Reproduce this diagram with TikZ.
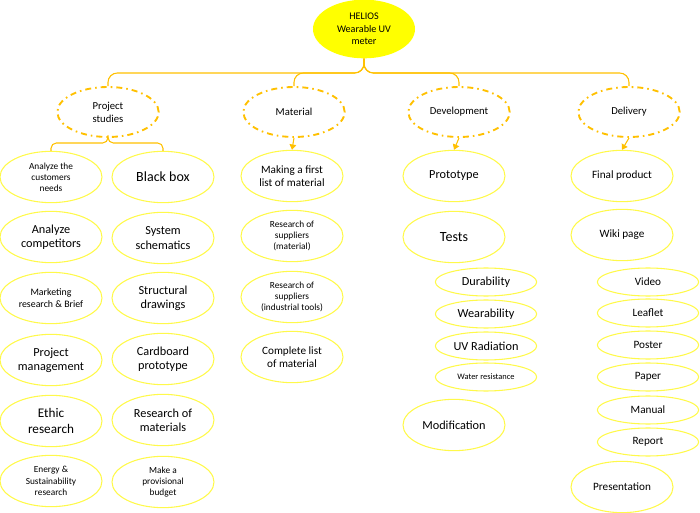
\documentclass[tikz,border=0pt]{standalone}
\usepackage{fontspec}
\setmainfont{Carlito}
\usetikzlibrary{shapes.geometric, arrows.meta}

\definecolor{helyellow}{HTML}{FFFF00}
\definecolor{gold}{HTML}{FFC000}
\definecolor{paleyellow}{HTML}{FFF94A}

\newcommand{\tinytxt}{\fontsize{6.3}{7.6}\selectfont}
\newcommand{\smalltxt}{\fontsize{7}{8.4}\selectfont}
\newcommand{\midtxt}{\fontsize{8.4}{10}\selectfont}
\newcommand{\bigtxt}{\fontsize{9.2}{10.6}\selectfont}
\newcommand{\hugetxt}{\fontsize{10.5}{12.5}\selectfont}

\tikzset{
    root/.style={ellipse, fill=helyellow, minimum width=76.5pt, minimum height=44pt,
        inner sep=0pt, align=center, font=\fontsize{7.6}{9.4}\selectfont},
    phase/.style={ellipse, draw=gold, line width=1.4pt,
        dash pattern=on 4.5pt off 3pt on 1.2pt off 3pt,
        minimum width=76pt, minimum height=37.5pt, inner sep=0pt, align=center,
        font=\fontsize{8}{9.6}\selectfont},
    task/.style={ellipse, draw=paleyellow, line width=0.8pt, minimum width=76.5pt,
        minimum height=38.5pt, inner sep=0pt, align=center, font=\midtxt},
    subtask/.style={task, minimum width=76pt, minimum height=21pt},
    link/.style={draw=gold, line width=0.8pt, rounded corners=7pt},
    arrow/.style={draw=gold, line width=0.8pt, -{Triangle[width=5pt,length=4pt]}}
}

\begin{document}
\begin{tikzpicture}[x=0.75pt, y=-0.75pt]
    \useasboundingbox (0,0) rectangle (700,513);
    % top
    \node[root] (helios) at (364,29) {HELIOS\\Wearable UV\\meter};
    \coordinate (bar) at (364,73);
    \node[phase] (ps) at (108,112) {Project\\studies};
    \node[phase] (mat) at (294,112) {Material};
    \node[phase] (dev) at (459,112) {Development};
    \node[phase] (del) at (629,112) {Delivery};
    \draw[link] (helios.south) |- (ps.north |- bar) -- (ps.north);
    \draw[link] (helios.south) |- (mat.north |- bar) -- (mat.north);
    \draw[link] (helios.south) |- (dev.north |- bar) -- (dev.north);
    \draw[link] (helios.south) |- (del.north |- bar) -- (del.north);

    % project studies
    \node[task, font=\smalltxt] (customers) at (51,177) {Analyze the\\customers\\needs};
    \node[task, font=\bigtxt] (competitors) at (51,237) {Analyze\\competitors};
    \node[task, font=\fontsize{7.4}{9}\selectfont] (marketing) at (51,298) {Marketing\\research \& Brief};
    \node[task, font=\bigtxt] (management) at (51,360) {Project\\management};
    \node[task, font=\fontsize{9.9}{11.6}\selectfont] (ethic) at (51,421) {Ethic\\research};
    \node[task, font=\smalltxt] (energy) at (51,481) {Energy \&\\Sustainability\\research};
    \node[task, font=\hugetxt] (blackbox) at (163,177) {Black box};
    \node[task, font=\bigtxt] (schematics) at (163,238) {System\\schematics};
    \node[task, font=\bigtxt] (drawings) at (163,298) {Structural\\drawings};
    \node[task, font=\bigtxt] (cardboard) at (163,359) {Cardboard\\prototype};
    \node[task, font=\bigtxt] (resmat) at (163,420) {Research of\\materials};
    \node[task, font=\smalltxt] (budget) at (163,482) {Make a\\provisional\\budget};
    \coordinate (psbar) at (108,143);
    \draw[link, rounded corners=4pt] (ps.south) |- (customers.north |- psbar) -- (customers.north);
    \draw[link, rounded corners=4pt] (ps.south) |- (blackbox.north |- psbar) -- (blackbox.north);

    % material
    \node[task] (firstlist) at (292,176) {Making a first\\list of material};
    \node[task, font=\smalltxt] (supmat) at (292,236) {Research of\\suppliers\\(material)};
    \node[task, font=\smalltxt] (suptools) at (292,297) {Research of\\suppliers\\(industrial tools)};
    \node[task] (fulllist) at (292,357) {Complete list\\of material};
    \draw[arrow] (mat.south) -- (firstlist.north);

    % development
    \node[task, font=\bigtxt] (prototype) at (454,176) {Prototype};
    \node[task, font=\hugetxt] (tests) at (454,237) {Tests};
    \node[subtask, font=\bigtxt] (durability) at (486,282) {Durability};
    \node[subtask, font=\bigtxt] (wearability) at (486,314) {Wearability};
    \node[subtask, font=\bigtxt] (uvrad) at (486,346) {UV Radiation};
    \node[subtask, font=\tinytxt] (water) at (486,377) {Water resistance};
    \node[task, font=\bigtxt] (modif) at (454,425) {Modification};
    \draw[arrow] (dev.south) -- (prototype.north);

    % delivery
    \node[task] (final) at (622,176) {Final product};
    \node[task] (wiki) at (622,235) {Wiki page};
    \node[subtask] (video) at (648,282) {Video};
    \node[subtask] (leaflet) at (648,313) {Leaflet};
    \node[subtask] (poster) at (648,345) {Poster};
    \node[subtask] (paper) at (648,377) {Paper};
    \node[subtask] (manual) at (648,410) {Manual};
    \node[subtask] (report) at (648,442) {Report};
    \node[task] (present) at (622,487) {Presentation};
    \draw[arrow] (del.south) -- (final.north);
\end{tikzpicture}
\end{document}
